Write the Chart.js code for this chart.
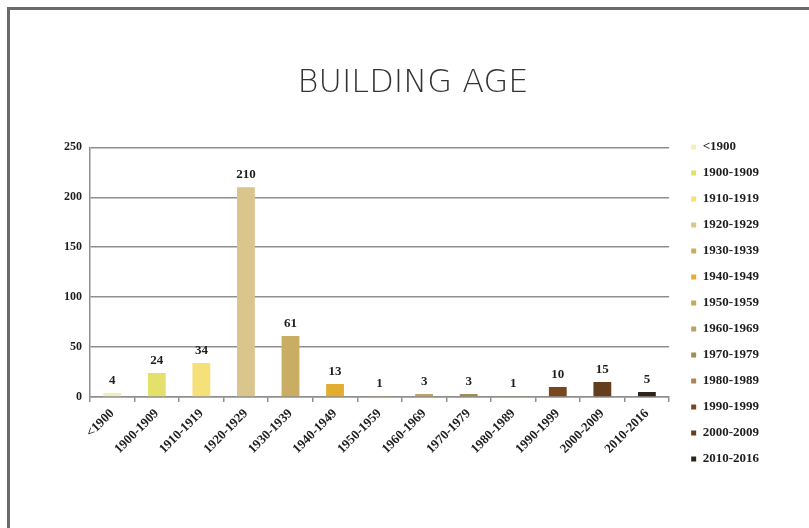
<!DOCTYPE html>
<html>
<head>
<meta charset="utf-8">
<title>Building Age</title>
<script src="https://cdn.jsdelivr.net/npm/chart.js@4.4.1/dist/chart.umd.min.js"></script>
<style>
  html, body { margin: 0; padding: 0; background: #fff; }
  #wrap { position: relative; width: 809px; height: 528px; overflow: hidden; }
  #frame {
    position: absolute; left: 7px; top: 7px; right: -10px; bottom: -10px;
    border-top: 3px solid #6a6a6a; border-left: 3px solid #6a6a6a;
  }
  #chart { position: absolute; left: 0; top: 0; }
</style>
</head>
<body>
<div id="wrap">
  <div id="frame"></div>
  <canvas id="chart" width="809" height="528"></canvas>
</div>
<script>
// decades of construction and how many buildings fall in each
var categories = ['<1900', '1900-1909', '1910-1919', '1920-1929', '1930-1939', '1940-1949',
  '1950-1959', '1960-1969', '1970-1979', '1980-1989', '1990-1999', '2000-2009', '2010-2016'];
var buildingCounts = [4, 24, 34, 210, 61, 13, 1, 3, 3, 1, 10, 15, 5];

// one colour per decade, pale yellow through to near black
var barColors = ['#f2eebc', '#e4e06c', '#f6e07a', '#dac58c', '#c9ad62', '#e3ae30',
  '#c8a85c', '#bca268', '#a28c5a', '#a88456', '#77481f', '#633d1c', '#2e2418'];

var yMax = 250;
var yStep = 50;

var gridColor = '#8f8f8f';
var textColor = '#1e1e1e';
var serif = '"Liberation Serif", "Times New Roman", serif';

// prints each count just above its bar
var valueLabels = {
    id: 'valueLabels',
    afterDatasetsDraw: function (chart) {
        var ctx = chart.ctx;
        var meta = chart.getDatasetMeta(0);
        var values = chart.data.datasets[0].data;
        ctx.save();
        ctx.font = 'bold 13px ' + serif;
        ctx.fillStyle = textColor;
        ctx.textAlign = 'center';
        ctx.textBaseline = 'alphabetic';
        meta.data.forEach(function (bar, n) {
            ctx.fillText(String(values[n]), bar.x, bar.y - 9);
        });
        ctx.restore();
    }
};

var context = document.getElementById('chart').getContext('2d');
var chart = new Chart(context, {
    type: 'bar',
    data: {
        labels: categories,
        datasets: [{
            data: buildingCounts,
            backgroundColor: barColors,
            borderWidth: 0,
            categoryPercentage: 1,
            barPercentage: 0.4,
            yAxisID: 'y'
        }]
    },
    options: {
        responsive: false,
        animation: false,
        events: [],
        layout: { padding: { left: 57, right: 40, top: 0, bottom: 0 } },
        plugins: {
            title: {
                display: true,
                text: 'BUILDING AGE',
                color: '#333',
                font: { family: '"DejaVu Sans", sans-serif', size: 32, weight: 200 },
                padding: { top: 64, bottom: 45 }
            },
            legend: {
                position: 'right',
                align: 'start',
                title: { display: true, text: '', font: { size: 10 }, padding: { top: 115.5, bottom: 0 } },
                labels: {
                    boxWidth: 5,
                    boxHeight: 5,
                    padding: 13,
                    color: textColor,
                    font: { family: serif, size: 13, weight: 'bold' },
                    generateLabels: function (c) {
                        return c.data.labels.map(function (label, n) {
                            return {
                                text: label,
                                fillStyle: barColors[n],
                                strokeStyle: barColors[n],
                                lineWidth: 0,
                                fontColor: textColor,
                                hidden: false,
                                index: n
                            };
                        });
                    }
                }
            },
            tooltip: { enabled: false }
        },
        scales: {
            x: {
                grid: { display: true, drawOnChartArea: false, drawTicks: true, tickLength: 5, color: gridColor, lineWidth: 1.5, offset: true },
                border: { display: true, color: gridColor, width: 1.5 },
                ticks: {
                    autoSkip: false,
                    maxRotation: 45,
                    minRotation: 45,
                    padding: 4,
                    color: textColor,
                    font: { family: serif, size: 13, weight: 'bold' }
                },
                afterFit: function (scale) { scale.height = 131; }
            },
            y: {
                min: 0,
                max: yMax,
                grid: { color: gridColor, lineWidth: 1.5, drawTicks: false },
                border: { display: true, color: gridColor, width: 1.5 },
                ticks: {
                    stepSize: yStep,
                    padding: 8,
                    color: textColor,
                    font: { family: serif, size: 12, weight: 'bold' }
                },
                afterFit: function (scale) { scale.width = 33; }
            },
            // empty spacer between the plot and the legend
            gap: {
                type: 'linear',
                position: 'right',
                display: true,
                grid: { display: false },
                border: { display: false },
                ticks: { display: false },
                afterFit: function (scale) { scale.width = 9; }
            }
        }
    },
    plugins: [valueLabels]
});
</script>
</body>
</html>
